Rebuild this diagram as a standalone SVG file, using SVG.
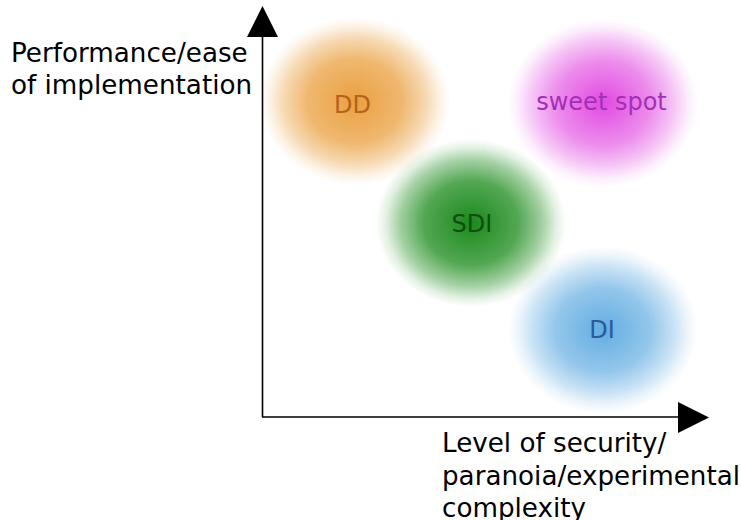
<svg xmlns="http://www.w3.org/2000/svg" width="741" height="520" viewBox="0 0 741 520">
<style>
.lbl{font-family:"DejaVu Sans",sans-serif;font-size:24px;text-anchor:middle}
.ax{font-family:"DejaVu Sans",sans-serif;font-size:26.2px;fill:#000}
.axis{stroke:#000;stroke-width:1.6;fill:none}
</style>
<defs>
<radialGradient id="gOr">
<stop offset="0" stop-color="#eaa040" stop-opacity="1"/>
<stop offset="0.5" stop-color="#eaa040" stop-opacity="0.75"/>
<stop offset="0.75" stop-color="#eaa040" stop-opacity="0.4"/>
<stop offset="0.9" stop-color="#eaa040" stop-opacity="0.12"/>
<stop offset="1" stop-color="#eaa040" stop-opacity="0"/>
</radialGradient>
<radialGradient id="gMa">
<stop offset="0" stop-color="#e040e0" stop-opacity="0.95"/>
<stop offset="0.5" stop-color="#e040e0" stop-opacity="0.6"/>
<stop offset="0.75" stop-color="#e040e0" stop-opacity="0.3"/>
<stop offset="0.9" stop-color="#e040e0" stop-opacity="0.09"/>
<stop offset="1" stop-color="#e040e0" stop-opacity="0"/>
</radialGradient>
<radialGradient id="gGr">
<stop offset="0" stop-color="#1a8a1a" stop-opacity="1"/>
<stop offset="0.5" stop-color="#1a8a1a" stop-opacity="0.75"/>
<stop offset="0.75" stop-color="#1a8a1a" stop-opacity="0.4"/>
<stop offset="0.9" stop-color="#1a8a1a" stop-opacity="0.12"/>
<stop offset="1" stop-color="#1a8a1a" stop-opacity="0"/>
</radialGradient>
<radialGradient id="gBl">
<stop offset="0" stop-color="#5aa8e0" stop-opacity="0.95"/>
<stop offset="0.5" stop-color="#5aa8e0" stop-opacity="0.65"/>
<stop offset="0.75" stop-color="#5aa8e0" stop-opacity="0.33"/>
<stop offset="0.9" stop-color="#5aa8e0" stop-opacity="0.1"/>
<stop offset="1" stop-color="#5aa8e0" stop-opacity="0"/>
</radialGradient>
</defs>
<rect width="741" height="520" fill="#fff"/>
<g id="DD">
<ellipse cx="355" cy="101" rx="95" ry="84" fill="url(#gOr)"/>
<text class="lbl" x="352.5" y="113" fill="#b5621c">DD</text>
</g>
<g id="sweet-spot">
<ellipse cx="603" cy="103" rx="95" ry="84" fill="url(#gMa)"/>
<text class="lbl" x="601.5" y="110" fill="#a32fb5">sweet spot</text>
</g>
<g id="SDI">
<ellipse cx="471" cy="223" rx="95" ry="84" fill="url(#gGr)"/>
<text class="lbl" x="472" y="232" fill="#124d12">SDI</text>
</g>
<g id="DI">
<ellipse cx="603" cy="330" rx="95" ry="84" fill="url(#gBl)"/>
<text class="lbl" x="602" y="338" fill="#2b5a98">DI</text>
</g>
<g id="connectors">
<line class="axis" x1="262.5" y1="417" x2="262.5" y2="34"/>
<polygon points="247,37 262.5,6 278,37" fill="#000"/>
<line class="axis" x1="262" y1="417" x2="680" y2="417"/>
<polygon points="678,402 709,417.5 678,433" fill="#000"/>
</g>
<g id="y-label">
<text class="ax" x="11" y="62">Performance/ease</text>
<text class="ax" x="11" y="94">of implementation</text>
</g>
<g id="x-label">
<text class="ax" x="442" y="452">Level of security/</text>
<text class="ax" x="442" y="485">paranoia/experimental</text>
<text class="ax" x="442" y="517">complexity</text>
</g>
</svg>
